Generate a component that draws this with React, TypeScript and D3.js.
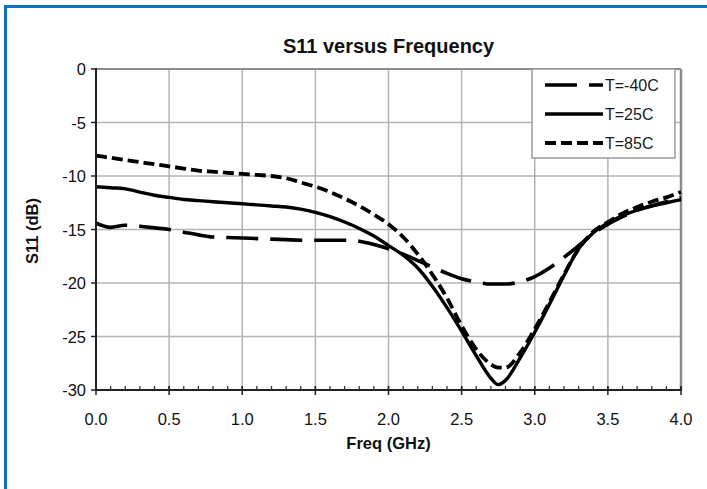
import React from "react";
import * as d3 from "d3";

const freqs = [0.0, 0.1, 0.2, 0.3, 0.4, 0.5, 0.6, 0.7, 0.8, 0.9, 1.0, 1.1, 1.2, 1.3, 1.4, 1.5, 1.6, 1.7, 1.8, 1.9, 2.0, 2.1, 2.2, 2.3, 2.4, 2.5, 2.6, 2.7, 2.75, 2.8, 2.9, 3.0, 3.1, 3.2, 3.3, 3.4, 3.5, 3.6, 3.7, 3.8, 3.9, 4.0];

const sM40 = [-14.4, -14.8, -14.6, -14.7, -14.85, -15.0, -15.25, -15.5, -15.7, -15.75, -15.8, -15.85, -15.9, -15.95, -16.0, -16.0, -16.0, -16.0, -16.1, -16.4, -16.8, -17.3, -17.9, -18.5, -19.1, -19.6, -19.9, -20.1, -20.1, -20.1, -19.9, -19.4, -18.6, -17.6, -16.5, -15.4, -14.5, -13.8, -13.2, -12.8, -12.4, -12.0];

const s25 = [-11.0, -11.1, -11.2, -11.5, -11.8, -12.0, -12.2, -12.3, -12.4, -12.5, -12.6, -12.7, -12.8, -12.9, -13.1, -13.4, -13.8, -14.3, -14.9, -15.6, -16.5, -17.4, -18.6, -20.3, -22.3, -24.5, -26.8, -28.9, -29.5, -29.1, -27.0, -24.6, -22.0, -19.3, -16.8, -15.3, -14.4, -13.7, -13.2, -12.8, -12.5, -12.2];

const s85 = [-8.1, -8.3, -8.5, -8.7, -8.9, -9.1, -9.3, -9.5, -9.6, -9.7, -9.8, -9.9, -10.0, -10.2, -10.6, -11.0, -11.5, -12.1, -12.8, -13.6, -14.5, -15.7, -17.3, -19.2, -21.4, -24.0, -26.2, -27.6, -27.9, -27.9, -26.5, -24.3, -21.8, -19.2, -16.8, -15.2, -14.3, -13.5, -12.9, -12.4, -12.0, -11.5];

const seriesNames = ["T=-40C", "T=25C", "T=85C"];
const seriesData = [sM40, s25, s85];
const seriesDash = ["32,12", "none", "11,5"];
const seriesWidth = [3.6, 3.4, 3.8];

const xTicks = [0, 0.5, 1, 1.5, 2, 2.5, 3, 3.5, 4];
const yTicks = [0, -5, -10, -15, -20, -25, -30];

export default function App() {
  const W = 707, H = 489;
  const x = d3.scaleLinear().domain([0, 4]).range([96, 681]);
  const y = d3.scaleLinear().domain([0, -30]).range([69, 390]);
  const minor = d3.range(0, 40.5, 1).map((v) => v / 10);

  const line = d3
    .line<[number, number]>()
    .x((d) => x(d[0]))
    .y((d) => y(d[1]))
    .curve(d3.curveMonotoneX);

  const font = "'Liberation Sans', Arial, sans-serif";
  const legX = 532, legY = 69, legW = 143, legH = 89;
  const rowYs = [85, 114, 143];

  return (
    <div style={{ position: "absolute", left: 0, top: 0 }}>
      <svg width={W} height={H} style={{ display: "block", background: "#fff" }}>
        {/* blue frame */}
        <rect x={4} y={5} width={W - 4} height={3} fill="#0d72b9" />
        <rect x={4} y={5} width={3} height={H - 5} fill="#0d72b9" />

        {/* title */}
        <text x={388.5} y={53} textAnchor="middle" fontFamily={font} fontWeight="bold" fontSize={20} fill="#111">
          S11 versus Frequency
        </text>

        {/* grid */}
        {yTicks.filter((t) => t !== 0 && t !== -30).map((t) => (
          <line key={"gy" + t} x1={x(0)} x2={x(4)} y1={y(t)} y2={y(t)} stroke="#b4b4b4" strokeWidth={1.5} />
        ))}
        {xTicks.filter((t) => t !== 0 && t !== 4).map((t) => (
          <line key={"gx" + t} x1={x(t)} x2={x(t)} y1={y(0)} y2={y(-30)} stroke="#b4b4b4" strokeWidth={1.5} />
        ))}
        {/* frame top/right */}
        <line x1={x(0)} x2={x(4)} y1={y(0)} y2={y(0)} stroke="#8c8c8c" strokeWidth={2} />
        <line x1={x(4)} x2={x(4)} y1={y(0)} y2={y(-30)} stroke="#8c8c8c" strokeWidth={2.5} />

        {/* series */}
        {seriesData.map((vals, i) => (
          <path
            key={"s" + i}
            d={line(freqs.map((f, j) => [f, vals[j]] as [number, number])) || ""}
            fill="none"
            stroke="#000"
            strokeWidth={seriesWidth[i]}
            strokeDasharray={seriesDash[i]}
            strokeLinejoin="round"
          />
        ))}

        {/* axes */}
        <line x1={x(0)} x2={x(0)} y1={y(0) - 1} y2={y(-30) + 1} stroke="#222" strokeWidth={2} />
        <line x1={x(0) - 1} x2={x(4) + 1} y1={y(-30)} y2={y(-30)} stroke="#222" strokeWidth={2} />
        {yTicks.map((t) => (
          <line key={"yt" + t} x1={x(0) - 5} x2={x(0)} y1={y(t)} y2={y(t)} stroke="#222" strokeWidth={1.5} />
        ))}
        {minor.map((t) => (
          <line key={"mt" + t} x1={x(t)} x2={x(t)} y1={y(-30) - 4} y2={y(-30)} stroke="#333" strokeWidth={1.3} />
        ))}
        {xTicks.map((t) => (
          <line key={"xt" + t} x1={x(t)} x2={x(t)} y1={y(-30) - 4} y2={y(-30) + 5} stroke="#222" strokeWidth={1.5} />
        ))}

        {/* tick labels */}
        {yTicks.map((t) => (
          <text key={"yl" + t} x={86} y={y(t) + 6} textAnchor="end" fontFamily={font} fontSize={16.5} fill="#111">
            {t === 0 ? "0" : String(t)}
          </text>
        ))}
        {xTicks.map((t) => (
          <text key={"xl" + t} x={x(t)} y={424.5} textAnchor="middle" fontFamily={font} fontSize={16.5} fill="#111">
            {t.toFixed(1)}
          </text>
        ))}

        {/* axis labels */}
        <text x={388.5} y={448.5} textAnchor="middle" fontFamily={font} fontWeight="bold" fontSize={16.5} fill="#111">
          Freq (GHz)
        </text>
        <text
          transform={`translate(38,231) rotate(-90)`}
          textAnchor="middle"
          fontFamily={font}
          fontWeight="bold"
          fontSize={16.5}
          fill="#111"
        >
          S11 (dB)
        </text>

        {/* legend */}
        <rect x={legX} y={legY} width={legW} height={legH} fill="#fff" stroke="#9a9a9a" strokeWidth={1.5} />
        {seriesNames.map((n, i) => (
          <g key={"lg" + i}>
            <line
              x1={545}
              x2={603}
              y1={rowYs[i]}
              y2={rowYs[i]}
              stroke="#000"
              strokeWidth={seriesWidth[i]}
              strokeDasharray={seriesDash[i]}
            />
            <text x={605} y={rowYs[i] + 5.5} fontFamily={font} fontSize={16} fill="#1a1a1a">
              {n}
            </text>
          </g>
        ))}
      </svg>
    </div>
  );
}
